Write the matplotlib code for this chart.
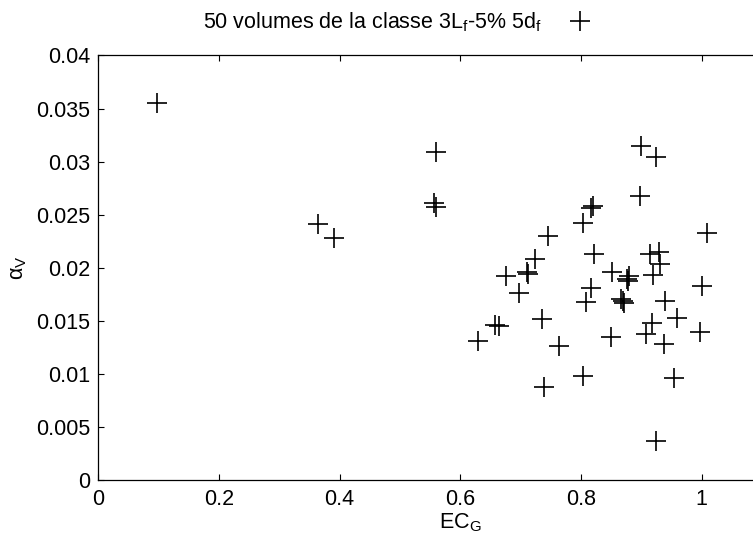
import numpy as np
import matplotlib

matplotlib.use('Agg')
import matplotlib.pyplot as plt

# EC_G / alpha_V values
ec_g = [0.098, 0.364, 0.390, 0.560, 0.557, 0.559, 0.745, 0.724, 0.711, 0.713,
        0.675, 0.698, 0.736, 0.658, 0.664, 0.629, 0.764, 0.739, 0.804, 0.816,
        0.809, 0.900, 0.924, 0.898, 0.820, 0.816, 0.804, 1.009, 0.821, 0.852,
        0.880, 0.878, 0.876, 0.929, 0.915, 0.931, 0.920, 1.001, 0.866, 0.869,
        0.872, 0.939, 0.959, 0.917, 0.907, 0.997, 0.850, 0.938, 0.954, 0.924]
alpha_v = [0.0355, 0.0241, 0.0228, 0.0309, 0.0261, 0.0257, 0.0230, 0.0208, 0.0196, 0.0194,
           0.0192, 0.0176, 0.0152, 0.0146, 0.0145, 0.0131, 0.0127, 0.0088, 0.0098, 0.0181,
           0.0168, 0.0315, 0.0304, 0.0268, 0.0258, 0.0256, 0.0242, 0.0233, 0.0213, 0.0196,
           0.0192, 0.0188, 0.0190, 0.0215, 0.0213, 0.0204, 0.0193, 0.0183, 0.0171, 0.0169,
           0.0167, 0.0169, 0.0153, 0.0148, 0.0138, 0.0140, 0.0135, 0.0128, 0.0096, 0.0037]

x_ticks = [0, 0.2, 0.4, 0.6, 0.8, 1]
x_labels = ['0', '0.2', '0.4', '0.6', '0.8', '1']
y_ticks = [0, 0.005, 0.01, 0.015, 0.02, 0.025, 0.03, 0.035, 0.04]
y_labels = ['0', '0.005', '0.01', '0.015', '0.02', '0.025', '0.03', '0.035', '0.04']

plt.rcParams['font.family'] = ['Liberation Sans', 'DejaVu Sans']
plt.rcParams['mathtext.default'] = 'regular'

fig = plt.figure(figsize=(7.53, 5.33), dpi=100)
# the axes box runs past the right edge of the picture, as in the reference
ax = fig.add_axes([0.1305, 0.0985, 0.9616, 0.7974])

ax.plot(ec_g, alpha_v, linestyle='none', marker='+', color='black',
        markersize=14.5, markeredgewidth=1.2,
        label='50 volumes de la classe 3$L_f$-5% 5$d_f$')

ax.set_xlim(0, 1.2)
ax.set_ylim(0, 0.04)
ax.set_xticks(x_ticks)
ax.set_xticklabels(x_labels)
ax.set_yticks(y_ticks)
ax.set_yticklabels(y_labels)
ax.tick_params(direction='in', top=True, right=True, length=4.5, width=0.8,
               labelsize=15.5, pad=6)
for s in ax.spines.values():
    s.set_linewidth(0.9)

ax.set_xlabel('$EC_G$', fontsize=15.5, labelpad=1)
ax.set_ylabel('$α_V$', fontsize=15.5, labelpad=5)

ax.legend(loc='center right', bbox_to_anchor=(604 / 753, 1 - 22 / 533),
          bbox_transform=fig.transFigure, frameon=False, markerfirst=False,
          fontsize=15.5, handlelength=1.2, handletextpad=1.2, borderpad=0)

fig.savefig('out.png', dpi=100)
plt.close(fig)
